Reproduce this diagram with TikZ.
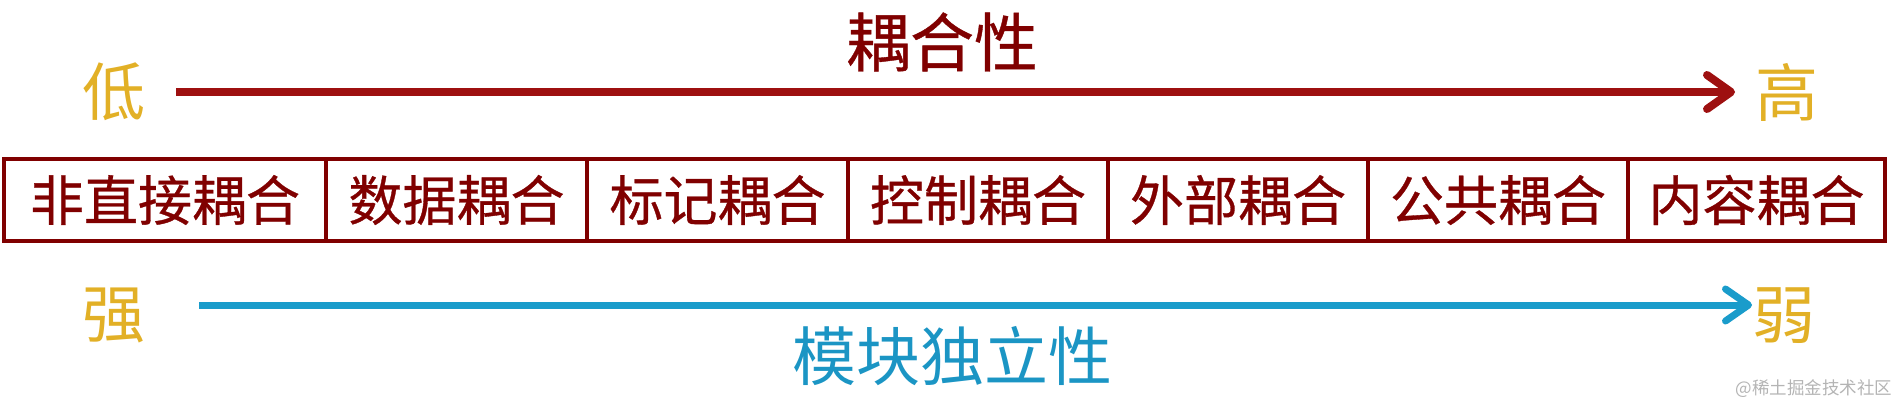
\documentclass[tikz,border=0pt]{standalone}
\usepackage{fontspec}
\setmainfont{Noto Sans CJK SC}
\newfontfamily\heavycjk[FakeBold=0.6]{Noto Sans CJK SC}
\usetikzlibrary{arrows.meta}
\definecolor{gold}{HTML}{E2B026}
\definecolor{darkred}{HTML}{800000}
\definecolor{arrowred}{HTML}{9E1010}
\definecolor{cyanline}{HTML}{1A9CCB}
\definecolor{cyantext}{HTML}{1B95C4}
\definecolor{wmgrey}{HTML}{B4B4B4}
\tikzset{
  endlabel/.style={inner sep=0pt, text=gold, font=\fontsize{63}{63}\selectfont},
  redheading/.style={inner sep=0pt, text=darkred, font=\heavycjk\fontsize{64}{64}\selectfont},
  blueheading/.style={inner sep=0pt, text=cyantext, font=\fontsize{64}{64}\selectfont},
  cell/.style={draw=darkred, line width=4pt, text=darkred, inner sep=0pt,
    minimum height=82pt, font=\heavycjk\fontsize{54}{54}\selectfont, fill=white},
  redarrow/.style={draw=arrowred, line width=8pt,
    -{Straight Barb[length=24pt, width=34pt, round]}},
  bluearrow/.style={draw=cyanline, line width=7pt,
    -{Straight Barb[length=23pt, width=32pt, round]}},
  watermark/.style={inner sep=0pt, text=wmgrey, font=\fontsize{17.5}{17.5}\selectfont}
}
\begin{document}
\begin{tikzpicture}[x=1pt, y=-1pt]
\useasboundingbox (0,0) rectangle (1900,404);
% top labels and arrow
\node[redheading] (coupling) at (942,42) {耦合性};
\node[endlabel] (low) at (114,92) {低};
\node[endlabel] (high) at (1787,92) {高};
\coordinate (rstart) at (176,92);
\coordinate (rend) at (1735,92);
\draw[redarrow] (rstart) -- (rend);
% boxes
\node[cell, minimum width=322pt] (c1) at (165,200) {非直接耦合};
\node[cell, minimum width=261pt] (c2) at (456.5,200) {数据耦合};
\node[cell, minimum width=261pt] (c3) at (717.5,200) {标记耦合};
\node[cell, minimum width=260pt] (c4) at (978,200) {控制耦合};
\node[cell, minimum width=260pt] (c5) at (1238,200) {外部耦合};
\node[cell, minimum width=260pt] (c6) at (1498,200) {公共耦合};
\node[cell, minimum width=257pt] (c7) at (1756.5,200) {内容耦合};
% bottom labels and arrow
\node[endlabel] (strong) at (114,315) {强};
\node[endlabel] (weak) at (1784,316) {弱};
\coordinate (bstart) at (199,305);
\coordinate (bend) at (1752,305);
\draw[bluearrow] (bstart) -- (bend);
\node[blueheading] (independence) at (952,356) {模块独立性};
\node[watermark] (wm) at (1814,389) {@稀土掘金技术社区};
\end{tikzpicture}
\end{document}
